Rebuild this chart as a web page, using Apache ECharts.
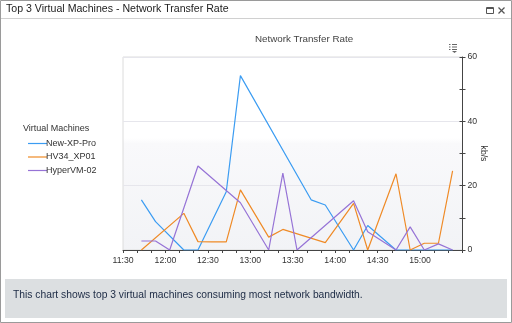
<!DOCTYPE html>
<html><head><meta charset="utf-8">
<script src="https://cdn.jsdelivr.net/npm/echarts@6/dist/echarts.min.js"></script>
<style>html,body{margin:0;padding:0;background:#fff;}#c{width:512px;height:323px;}</style>
</head><body><div id="c"></div>
<script>
// ---- data ----
const times = ['11:43','11:53','12:03','12:13','12:23','12:33','12:43','12:53','13:03','13:13','13:23','13:33',
               '13:43','13:53','14:03','14:13','14:23','14:33','14:43','14:53','15:03','15:13','15:23'];
const seriesNames = ['New-XP-Pro','HV34_XP01','HyperVM-02'];
const newXPPro  = [15.6, 8.8, null, 0, 0, null, 18.1, 54.2, null, null, null, null, 15.6, 14.0, null, 0, 7.6, null, 0, 0, 0, 0, 0];
const hv34XP01  = [0, null, null, 11.4, 2.6, 2.5, 2.5, 18.7, null, 4.0, 6.4, null, null, 2.3, null, 14.5, 0, null, 23.7, 0, 2.1, 2.1, 24.6];
const hyperVM02 = [2.8, 2.8, 0, null, 26.1, null, null, 14.7, null, 0, 23.9, 0, null, null, null, 15.3, 5.7, null, 0, 7.2, 0, 1.9, 0];
const xTickLabels = ['11:30','12:00','12:30','13:00','13:30','14:00','14:30','15:00'];
const yTickLabels = [0, 20, 40, 60];
const panelTitle = 'Top 3 Virtual Machines - Network Transfer Rate';
const chartTitle = 'Network Transfer Rate';
const legendTitle = 'Virtual Machines';
const footerText = 'This chart shows top 3 virtual machines consuming most network bandwidth.';
const yName = 'kb/s';

const colors = ['#3b9cf2', '#ef8a26', '#9673d6'];
const toMin = s => { const p = s.split(':'); return (+p[0]) * 60 + (+p[1]); };
const fmtMin = v => { const h = Math.floor(v / 60), m = v % 60; return h + ':' + (m < 10 ? '0' : '') + m; };
const xMin = toMin(xTickLabels[0]);
const xMax = toMin('15:30');
const yMax = yTickLabels[yTickLabels.length - 1];

const mk = vals => times.map((t, i) => [toMin(t), vals[i]]).filter(p => p[1] != null);
const allVals = [newXPPro, hv34XP01, hyperVM02];

const font = 'Liberation Sans, Arial, sans-serif';
const chart = echarts.init(document.getElementById('c'), null, { renderer: 'canvas' });

const baseX = {
  type: 'value', min: xMin, max: xMax, interval: 30,
  axisLine: { show: true, lineStyle: { color: '#444', width: 1 } },
  axisTick: { show: true, length: 3, lineStyle: { color: '#444' } },
  minorTick: { show: true, splitNumber: 3, length: 3, lineStyle: { color: '#444' } },
  splitLine: { show: false },
  axisLabel: { show: true, margin: 6, color: '#333', fontSize: 8.7, fontFamily: font,
    showMaxLabel: false, formatter: v => fmtMin(v) }
};
const baseY = {
  type: 'value', position: 'right', min: 0, max: yMax, interval: 20,
  axisLine: { show: true, lineStyle: { color: '#444', width: 1 } },
  axisTick: { show: true, length: 3, lineStyle: { color: '#444' } },
  minorTick: { show: true, splitNumber: 2, length: 3, lineStyle: { color: '#444' } },
  splitLine: { show: true, lineStyle: { color: '#e6e6ec', width: 1 } },
  axisLabel: { show: true, margin: 5, color: '#333', fontSize: 8.7, fontFamily: font },
  name: yName, nameLocation: 'middle', nameRotate: -90, nameGap: 16, nameMoveOverlap: false,
  nameTextStyle: { color: '#333', fontSize: 8.7, fontFamily: font }
};

chart.setOption({
  animation: false,
  backgroundColor: '#fff',
  color: colors,
  title: [
    { text: chartTitle, left: 299, top: 29, textAlign: 'center',
      textStyle: { color: '#444', fontSize: 9.8, fontWeight: 'normal', fontFamily: font } }
  ],
  legend: {
    orient: 'vertical', left: 23, top: 133, icon: 'rect', itemWidth: 19, itemHeight: 1.2,
    itemGap: 2.5, data: seriesNames,
    textStyle: { color: '#333', fontSize: 9, fontFamily: font, lineHeight: 11, padding: [0, 0, 0, -6] }
  },
  grid: {
    left: 123, top: 57, width: 339.5, height: 193, show: true,
    borderColor: '#dcdcdc', borderWidth: 1,
    backgroundColor: { type: 'linear', x: 0, y: 0, x2: 0, y2: 1,
      colorStops: [{ offset: 0, color: '#ffffff' }, { offset: 0.42, color: '#ffffff' },
                   { offset: 0.45, color: '#f9f9fb' }, { offset: 1, color: '#f2f3f6' }] }
  },
  xAxis: [
    baseX,
    Object.assign({}, baseX, { axisLine: { show: false }, axisLabel: { show: false },
      axisTick: Object.assign({}, baseX.axisTick, { inside: true }) })
  ],
  yAxis: [
    baseY,
    Object.assign({}, baseY, { axisLine: { show: false }, axisLabel: { show: false }, name: '',
      splitLine: { show: false }, axisTick: Object.assign({}, baseY.axisTick, { inside: true }) })
  ],
  series: seriesNames.map((n, i) => ({
    name: n, type: 'line', data: mk(allVals[i]), showSymbol: false, symbol: 'none',
    xAxisIndex: 0, yAxisIndex: 0,
    lineStyle: { width: 1.2, color: colors[i] }, itemStyle: { color: colors[i] }
  })),
  graphic: [
    { type: 'rect', shape: { x: 0.5, y: 0.5, width: 511, height: 322 }, silent: true,
      style: { fill: null, stroke: '#9a9a9a', lineWidth: 1 } },
    { type: 'line', shape: { x1: 1, y1: 18.5, x2: 511, y2: 18.5 }, silent: true,
      style: { stroke: '#d0d0d0', lineWidth: 1 } },
    { type: 'text', left: 6, top: 4, silent: true,
      style: { text: panelTitle, fill: '#222', font: '10.6px ' + font } },
    { type: 'rect', shape: { x: 486.5, y: 7.5, width: 7, height: 6 }, silent: true,
      style: { fill: null, stroke: '#555', lineWidth: 1 } },
    { type: 'line', shape: { x1: 486.5, y1: 8.5, x2: 493.5, y2: 8.5 }, silent: true,
      style: { stroke: '#555', lineWidth: 1 } },
    { type: 'line', shape: { x1: 498.5, y1: 7.5, x2: 504.5, y2: 13.5 }, silent: true,
      style: { stroke: '#555', lineWidth: 1.2 } },
    { type: 'line', shape: { x1: 504.5, y1: 7.5, x2: 498.5, y2: 13.5 }, silent: true,
      style: { stroke: '#555', lineWidth: 1.2 } },
    { type: 'group', silent: true, children: [
      { type: 'rect', shape: { x: 449, y: 44, width: 1.5, height: 1 }, style: { fill: '#666' } },
      { type: 'rect', shape: { x: 452, y: 44, width: 5, height: 1 }, style: { fill: '#666' } },
      { type: 'rect', shape: { x: 449, y: 46.5, width: 1.5, height: 1 }, style: { fill: '#666' } },
      { type: 'rect', shape: { x: 452, y: 46.5, width: 5, height: 1 }, style: { fill: '#666' } },
      { type: 'rect', shape: { x: 449, y: 49, width: 1.5, height: 1 }, style: { fill: '#666' } },
      { type: 'rect', shape: { x: 452, y: 49, width: 5, height: 1 }, style: { fill: '#666' } },
      { type: 'polygon', shape: { points: [[452, 51], [457, 51], [454.5, 53]] }, style: { fill: '#666' } }
    ] },
    { type: 'text', left: 23, top: 124, silent: true,
      style: { text: legendTitle, fill: '#333', font: '9px ' + font } },
    { type: 'rect', shape: { x: 5, y: 279, width: 502, height: 39 }, silent: true,
      style: { fill: '#dcdfe1' } },
    { type: 'text', left: 13, top: 290, silent: true,
      style: { text: footerText, fill: '#1c2a44', font: '10.3px ' + font } }
  ]
});
</script>
</body></html>
